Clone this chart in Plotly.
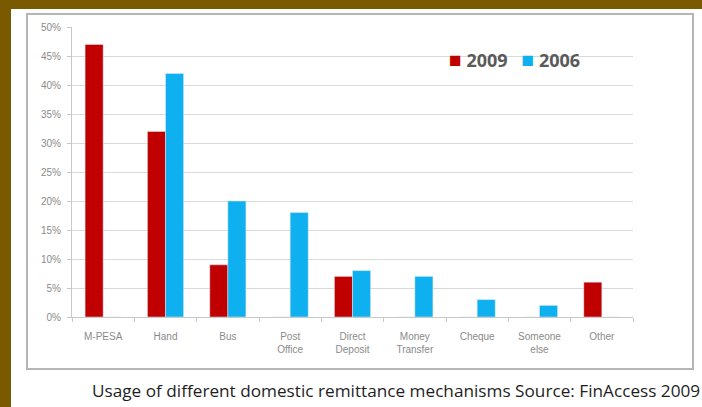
import plotly.graph_objects as go

categories = ["M-PESA", "Hand", "Bus", "Post<br>Office", "Direct<br>Deposit",
              "Money<br>Transfer", "Cheque", "Someone<br>else", "Other"]
values_2009 = [47, 32, 9, 0, 7, 0, 0, 0, 6]
values_2006 = [0, 42, 20, 18, 8, 7, 3, 2, 0]
tick_vals = [0, 5, 10, 15, 20, 25, 30, 35, 40, 45, 50]
tick_text = ["0%", "5%", "10%", "15%", "20%", "25%", "30%", "35%", "40%", "45%", "50%"]
series_names = ["2009", "2006"]
series_colors = ["#c00000", "#0fb0f0"]
caption = "Usage of different domestic remittance mechanisms Source: FinAccess 2009"

W, H = 702, 407
L, R, T, B = 72, 633, 27, 317

def px(x):
    return (x - L) / (R - L)

def py(y):
    return (B - y) / (B - T)

fig = go.Figure()
fig.add_trace(go.Bar(name=series_names[0], x=categories, y=values_2009,
                     marker_color=series_colors[0], showlegend=False))
fig.add_trace(go.Bar(name=series_names[1], x=categories, y=values_2006,
                     marker_color=series_colors[1], showlegend=False))

shapes = [
    dict(type="rect", xref="paper", yref="paper", x0=px(0), x1=px(W), y0=py(0), y1=py(9),
         fillcolor="#7a5a00", line_width=0, layer="below"),
    dict(type="rect", xref="paper", yref="paper", x0=px(0), x1=px(11), y0=py(0), y1=py(H),
         fillcolor="#7a5a00", line_width=0, layer="below"),
    dict(type="rect", xref="paper", yref="paper", x0=px(27), x1=px(693), y0=py(14), y1=py(369),
         fillcolor="rgba(0,0,0,0)", line=dict(color="#b5b5b5", width=2), layer="below"),
]

legend_text = (
    f"<span style='color:{series_colors[0]};font-size:21px'>■</span> <b>{series_names[0]}</b>   "
    f"<span style='color:{series_colors[1]};font-size:21px'>■</span> <b>{series_names[1]}</b>"
)

fig.update_layout(
    width=W, height=H,
    margin=dict(l=L, r=W - R, t=T, b=H - B),
    paper_bgcolor="white", plot_bgcolor="white",
    barmode="group", bargap=0.42, bargroupgap=0,
    font=dict(family="Liberation Sans, Arial, sans-serif", color="#8a8a8a", size=10),
    showlegend=False,
    shapes=shapes,
    annotations=[
        dict(text=caption, xref="paper", yref="paper", x=px(396), y=py(390),
             xanchor="center", yanchor="middle", showarrow=False,
             font=dict(family="Open Sans, sans-serif", size=17.2, color="#1e1e1e")),
        dict(text=legend_text, xref="paper", yref="paper", x=px(447), y=py(59),
             xanchor="left", yanchor="middle", showarrow=False,
             font=dict(family="Open Sans, sans-serif", size=18, color="#5a5a5a")),
    ],
)
fig.update_yaxes(range=[0, 50], tickvals=tick_vals, ticktext=tick_text,
                 showgrid=True, gridcolor="#d9d9d9", gridwidth=1,
                 showline=True, linecolor="#c8c8c8", ticks="outside", ticklen=4,
                 tickcolor="#c8c8c8", tickfont=dict(size=10, color="#8a8a8a"),
                 zeroline=False, ticklabelstandoff=4)
fig.update_xaxes(showline=True, linecolor="#c8c8c8", ticks="outside", ticklen=4,
                 tickcolor="#c8c8c8", tickson="boundaries",
                 tickfont=dict(size=10, color="#8a8a8a"), showgrid=False,
                 ticklabelstandoff=10)

fig.write_html("out.html", config={"displayModeBar": False},
               post_script="document.body.style.margin='0';document.body.style.overflow='hidden';")
